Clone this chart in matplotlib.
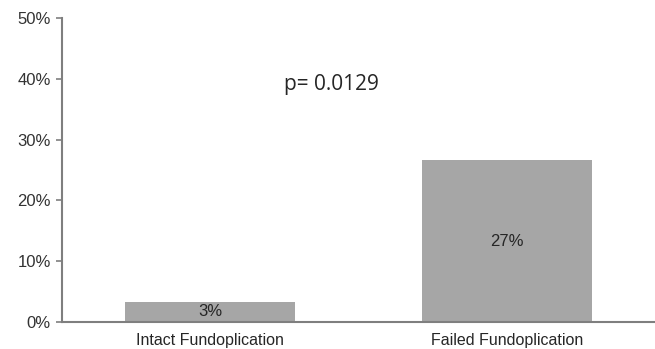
import matplotlib
matplotlib.use("Agg")
import matplotlib.pyplot as plt
from matplotlib.ticker import FuncFormatter

categories = ["Intact Fundoplication", "Failed Fundoplication"]
values = [3.3, 26.6]
bar_labels = ["3%", "27%"]
y_ticks = [0, 10, 20, 30, 40, 50]
p_text = "p= 0.0129"

plt.rcParams['font.family'] = ['Liberation Sans', 'DejaVu Sans']

fig = plt.figure(figsize=(6.55, 3.49), dpi=100)
ax = fig.add_axes([62/655, 1 - 322/349, (655-62)/655, (322-18)/349])

x = list(range(len(categories)))
bars = ax.bar(x, values, width=0.573, color='#a6a6a6', zorder=2)

ax.set_xlim(-0.5, 1.5)
ax.set_ylim(0, 50)
ax.set_yticks(y_ticks)
ax.yaxis.set_major_formatter(FuncFormatter(lambda v, p: f"{int(v)}%"))
ax.set_xticks(x)
ax.set_xticklabels(categories)

for s in ['top', 'right']:
    ax.spines[s].set_visible(False)
for s in ['left', 'bottom']:
    ax.spines[s].set_color('#7f7f7f')
    ax.spines[s].set_linewidth(1.5)

ax.tick_params(axis='y', length=4, width=1.2, color='#7f7f7f', labelsize=12,
               labelcolor='#333333', pad=4)
ax.tick_params(axis='x', length=0, labelsize=11.5, labelcolor='#262626', pad=8)

for b, lab in zip(bars, bar_labels):
    h = b.get_height()
    ax.text(b.get_x() + b.get_width()/2, h/2, lab, ha='center', va='center',
            fontsize=12, color='#262626')

ax.text(0.41, 39.0, p_text, ha='center', va='center', fontsize=15,
        color='#262626', family=['Open Sans', 'DejaVu Sans'])

fig.savefig("out.png", dpi=100)
